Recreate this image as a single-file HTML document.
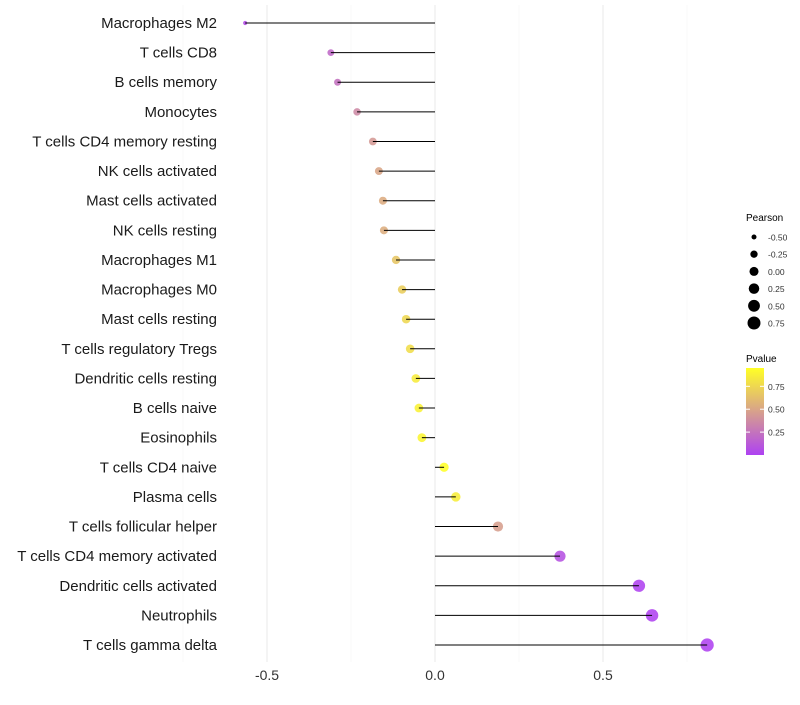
<!DOCTYPE html>
<html><head><meta charset="utf-8"><style>
body{margin:0;background:#fff;font-family:"Liberation Sans",sans-serif}
</style></head><body>
<svg id="chart" width="800" height="700" xmlns="http://www.w3.org/2000/svg"></svg>
<script>
const categories=["Macrophages M2","T cells CD8","B cells memory","Monocytes","T cells CD4 memory resting","NK cells activated","Mast cells activated","NK cells resting","Macrophages M1","Macrophages M0","Mast cells resting","T cells regulatory  Tregs ","Dendritic cells resting","B cells naive","Eosinophils","T cells CD4 naive","Plasma cells","T cells follicular helper","T cells CD4 memory activated","Dendritic cells activated","Neutrophils","T cells gamma delta"];
const pearson=[-0.565,-0.31,-0.29,-0.232,-0.185,-0.167,-0.155,-0.152,-0.116,-0.098,-0.086,-0.074,-0.057,-0.048,-0.039,0.027,0.062,0.1875,0.372,0.607,0.646,0.81];
const pvalue=[0.05,0.2,0.24,0.36,0.44,0.5,0.53,0.54,0.66,0.7,0.75,0.78,0.85,0.88,0.9,0.95,0.86,0.47,0.08,0.01,0.01,0.01];
const xTicks=[-0.5,0,0.5];
const xTickLabels=["-0.5","0.0","0.5"];
const sizeLegend=[-0.5,-0.25,0,0.25,0.5,0.75];
const sizeLegendLabels=["-0.50","-0.25","0.00","0.25","0.50","0.75"];
const colorTicks=[0.75,0.5,0.25];
const colorTickLabels=["0.75","0.50","0.25"];

const NS="http://www.w3.org/2000/svg",svg=document.getElementById('chart');
const x=v=>435+v*336;
const y=i=>23+i*(622/21);
const r=v=>Math.sqrt(Math.max(2,20.5+28.6*v));
const pmin=0,pmax=0.95;
const col=p=>{const t=Math.max(0,Math.min(1,(p-pmin)/(pmax-pmin)));const a=[160,32,240],b=[255,255,0];return `rgb(${a.map((c,k)=>Math.round(c+(b[k]-c)*t)).join(',')})`;};
function el(tag,attrs,parent){const e=document.createElementNS(NS,tag);for(const k in attrs)e.setAttribute(k,attrs[k]);(parent||svg).appendChild(e);return e;}
// grid
const grid=el('g',{});


[-0.75,-0.25,0.25,0.75].forEach(v=>el('line',{x1:x(v),x2:x(v),y1:5,y2:662,stroke:'#f5f5f5','stroke-width':0.6},grid));
xTicks.forEach(v=>el('line',{x1:x(v),x2:x(v),y1:5,y2:662,stroke:'#ececec','stroke-width':1.1},grid));
// x labels
xTicks.forEach((v,i)=>{const t=el('text',{x:x(v),y:680,'text-anchor':'middle','font-size':14,fill:'#333'});t.textContent=xTickLabels[i];

});
// rows
categories.forEach((c,i)=>{
const g=el('g',{});


el('circle',{cx:x(pearson[i]),cy:y(i),r:r(pearson[i]),fill:col(pvalue[i]),'fill-opacity':0.75},g);
el('line',{x1:x(0),x2:x(pearson[i]),y1:y(i),y2:y(i),stroke:'#000','stroke-width':1},g);
const t=el('text',{x:217,y:y(i)+5,'text-anchor':'end','font-size':15,fill:'#1a1a1a'});t.textContent=c;


});
// size legend
const sl=el('g',{});


el('text',{x:746,y:221,'font-size':10,fill:'#000'},sl).textContent='Pearson';
sizeLegend.forEach((v,i)=>{const cy=237+i*17.2;el('circle',{cx:754,cy:cy,r:r(v),fill:'#000'},sl);el('text',{x:768,y:cy+3.5,'font-size':8.5,fill:'#333'},sl).textContent=sizeLegendLabels[i];});
// color legend
const cl=el('g',{});


el('text',{x:746,y:362,'font-size':10,fill:'#000'},cl).textContent='Pvalue';
const defs=el('defs',{},cl);const lg=el('linearGradient',{id:'pg',x1:0,y1:1,x2:0,y2:0},defs);
el('stop',{offset:0,'stop-color':col(pmin)},lg);el('stop',{offset:0.5,'stop-color':col((pmin+pmax)/2)},lg);el('stop',{offset:1,'stop-color':col(pmax)},lg);
const cb=[368,455];const cy=p=>cb[1]-(p-pmin)/(pmax-pmin)*(cb[1]-cb[0]);
el('rect',{x:746,y:cb[0],width:18,height:cb[1]-cb[0],fill:'url(#pg)','fill-opacity':0.85},cl);
colorTicks.forEach((p,i)=>{el('line',{x1:746,x2:750,y1:cy(p),y2:cy(p),stroke:'#fff'},cl);el('line',{x1:760,x2:764,y1:cy(p),y2:cy(p),stroke:'#fff'},cl);el('text',{x:768,y:cy(p)+3.5,'font-size':8.5,fill:'#333'},cl).textContent=colorTickLabels[i];});
</script>
</body></html>
